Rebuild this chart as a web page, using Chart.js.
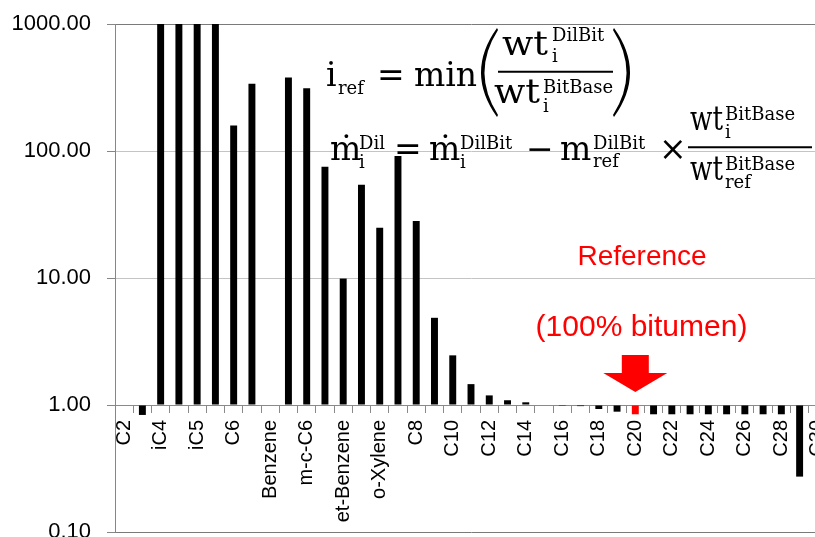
<!DOCTYPE html>
<html>
<head>
<meta charset="utf-8">
<script src="https://cdn.jsdelivr.net/npm/chart.js@4/dist/chart.umd.min.js"></script>
<style>
  html, body { margin: 0; padding: 0; background: #fff; overflow: hidden; }
  #wrap { position: relative; width: 830px; height: 560px; }
  #chart { position: absolute; left: 0; top: 0; }
  #notes { position: absolute; left: 0; top: 0; pointer-events: none; }
  .eq { font-family: "DejaVu Serif", "Liberation Serif", serif; fill: #000; }
  .main { font-size: 33px; }
  .scr { font-size: 18px; }
  .red { font-family: "Liberation Sans", Arial, sans-serif; fill: #ff0000; }
</style>
</head>
<body>
<div id="wrap">
  <canvas id="chart" width="830" height="560"></canvas>
  <svg id="notes" width="830" height="560" xmlns="http://www.w3.org/2000/svg">
    <!-- i_ref = min( wt_i^DilBit / wt_i^BitBase ) -->
    <g class="eq">
      <text class="main" x="326" y="85.5">i</text>
      <text class="scr" x="338" y="94">ref</text>
      <text class="main" x="377" y="85.5">=</text>
      <text class="main" x="414" y="85.5">min</text>
      <path d="M497,28 Q465,72.5 497,117 L498,115 Q471,72.5 498,30 Z"/>
      <text class="main" x="502" y="55" textLength="46" lengthAdjust="spacingAndGlyphs">wt</text>
      <text class="scr" x="552" y="40.5">DilBit</text>
      <text class="scr" x="552" y="62">i</text>
      <line x1="498" y1="71.7" x2="613" y2="71.7" stroke="#000" stroke-width="2"/>
      <text class="main" x="494" y="103.3" textLength="46" lengthAdjust="spacingAndGlyphs">wt</text>
      <text class="scr" x="543" y="93">BitBase</text>
      <text class="scr" x="543" y="112">i</text>
      <path d="M614,28 Q646,72.5 614,117 L613,115 Q640,72.5 613,30 Z"/>
    </g>
    <!-- m_i^Dil = m_i^DilBit - m_ref^DilBit x wt_i^BitBase / wt_ref^BitBase -->
    <g class="eq">
      <text class="main" x="330" y="160">ṁ</text>
      <text class="scr" x="359" y="149">Dil</text>
      <text class="scr" x="359" y="168">i</text>
      <text class="main" x="394" y="160">=</text>
      <text class="main" x="429" y="160">ṁ</text>
      <text class="scr" x="460" y="149">DilBit</text>
      <text class="scr" x="460" y="168">i</text>
      <text class="main" x="526" y="160">−</text>
      <text class="main" x="560" y="160">m</text>
      <text class="scr" x="593" y="149">DilBit</text>
      <text class="scr" x="593" y="167">ref</text>
      <text class="main" x="659" y="160">×</text>
      <text class="main" x="690" y="130" textLength="33" lengthAdjust="spacingAndGlyphs">wt</text>
      <text class="scr" x="725" y="120">BitBase</text>
      <text class="scr" x="725" y="138">i</text>
      <line x1="688" y1="147.3" x2="812" y2="147.3" stroke="#000" stroke-width="2"/>
      <text class="main" x="690" y="180" textLength="33" lengthAdjust="spacingAndGlyphs">wt</text>
      <text class="scr" x="725" y="170">BitBase</text>
      <text class="scr" x="725" y="188">ref</text>
    </g>
    <text class="red" x="642" y="265" font-size="28" text-anchor="middle">Reference</text>
    <text class="red" x="641.5" y="336" font-size="30" text-anchor="middle">(100% bitumen)</text>
  </svg>
</div>
<script>
// Components in elution order; every second one is labelled on the axis.
const categories = [
  'C2', 'C3', 'iC4', 'nC4', 'iC5', 'nC5', 'C6', 'MCP', 'Benzene', 'C7',
  'm-c-C6', 'Toluene', 'et-Benzene', 'p-Xylene', 'o-Xylene', 'TMB', 'C8', 'C9', 'C10', 'C11',
  'C12', 'C13', 'C14', 'C15', 'C16', 'C17', 'C18', 'C19', 'C20', 'C21',
  'C22', 'C23', 'C24', 'C25', 'C26', 'C27', 'C28', 'C29', 'C30'
];

// Ratio of diluent-bitumen mass to bitumen-base mass per component (log axis, bars start at 1).
// iC4 .. nC5 run past the top of the axis and are capped at its maximum.
const massRatio = [
  null, 0.835, 1000, 1000, 1000, 1000, 159, 338, null, 379,
  312, 75.3, 9.9, 54.3, 24.9, 91.2, 28.1, 4.86, 2.46, 1.46,
  1.19, 1.09, 1.05, null, 0.985, 0.98, 0.93, 0.886, 0.845, 0.845,
  0.845, 0.845, 0.845, 0.845, 0.845, 0.845, 0.845, 0.273, null
];

const yTickValues = [0.1, 1, 10, 100, 1000];
const referenceComponent = 'C20';

// Red marker pointing at the reference component.
const referenceArrow = {
  id: 'referenceArrow',
  afterDatasetsDraw(chart) {
    const x = chart.scales.x.getPixelForValue(categories.indexOf(referenceComponent));
    const tip = chart.scales.y.getPixelForValue(1) - 13;
    const c = chart.ctx;
    c.save();
    c.fillStyle = '#ff0000';
    c.beginPath();
    c.moveTo(x - 13.5, tip - 37);
    c.lineTo(x + 13.5, tip - 37);
    c.lineTo(x + 13.5, tip - 19);
    c.lineTo(x + 32, tip - 19);
    c.lineTo(x, tip);
    c.lineTo(x - 32, tip - 19);
    c.lineTo(x - 13.5, tip - 19);
    c.closePath();
    c.fill();
    c.restore();
  }
};

// Keep the plot area fixed by the layout padding alone.
function noAxisPadding(scale) {
  scale.paddingLeft = 0;
  scale.paddingRight = 0;
  scale.paddingTop = 0;
  scale.paddingBottom = 0;
}

new Chart(document.getElementById('chart'), {
  type: 'bar',
  data: {
    labels: categories,
    datasets: [{
      data: massRatio,
      base: 1,
      backgroundColor: ctx => categories[ctx.dataIndex] === referenceComponent ? '#ff0000' : '#000000',
      borderWidth: 0,
      barPercentage: 0.38,
      categoryPercentage: 1
    }]
  },
  options: {
    responsive: false,
    devicePixelRatio: 1,
    animation: false,
    layout: { padding: { left: 0, top: 24, right: 3, bottom: 28 } },
    plugins: { legend: { display: false }, tooltip: { enabled: false } },
    scales: {
      x: {
        type: 'category',
        position: { y: 1 },
        offset: true,
        afterFit: noAxisPadding,
        border: { display: true, color: '#8a8a8a', width: 1 },
        grid: {
          offset: true,
          drawOnChartArea: false,
          drawTicks: true,
          tickLength: 7,
          color: '#8a8a8a'
        },
        ticks: {
          autoSkip: false,
          minRotation: 90,
          maxRotation: 90,
          padding: 8,
          color: '#000',
          font: { family: '"Liberation Sans", Arial, sans-serif', size: 20 },
          callback: function (value, index) {
            return index % 2 === 0 ? this.getLabelForValue(value) : '';
          }
        }
      },
      y: {
        type: 'logarithmic',
        min: 0.1,
        max: 1000,
        border: { display: true, color: '#868686', width: 1 },
        grid: {
          drawTicks: true,
          tickLength: 8,
          tickColor: '#868686',
          color: c => (c.tick && (c.tick.value === 1000 || c.tick.value === 0.1)) ? '#7a7a7a' : '#c4c4c4'
        },
        afterBuildTicks: scale => { scale.ticks = yTickValues.map(v => ({ value: v })); },
        afterFit: scale => { noAxisPadding(scale); scale.width = 115; },
        ticks: {
          padding: 16,
          color: '#000',
          font: { family: '"Liberation Sans", Arial, sans-serif', size: 22 },
          callback: v => Number(v).toFixed(2)
        }
      }
    }
  },
  plugins: [referenceArrow]
});
</script>
</body>
</html>
